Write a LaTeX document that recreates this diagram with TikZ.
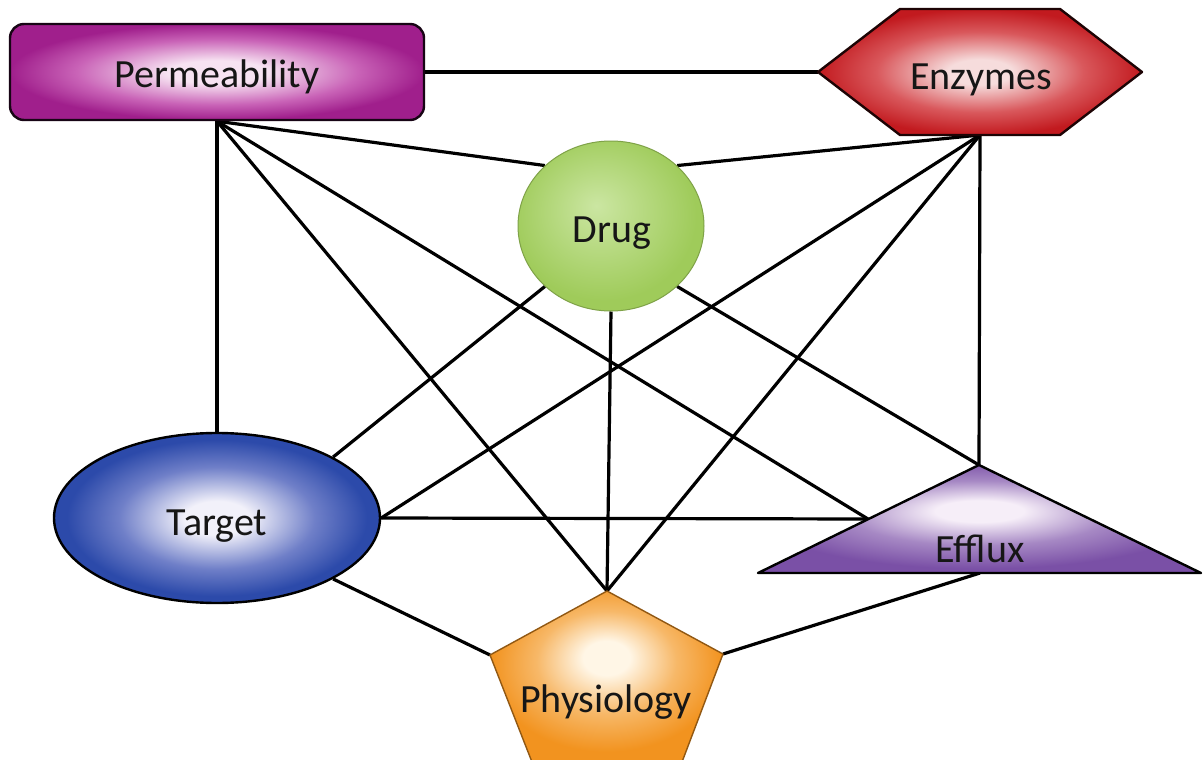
\documentclass[tikz,border=0pt]{standalone}
\usepackage{fontspec}
\setmainfont{Carlito}
\usetikzlibrary{shapes.geometric}
\pgfdeclarelayer{back}
\pgfdeclarelayer{bg}
\pgfsetlayers{back,bg,main}
\definecolor{txt}{HTML}{161616}
\definecolor{permO}{HTML}{A01F8C}
\definecolor{permM}{HTML}{C963B7}
\definecolor{permI}{HTML}{F7E3F2}
\definecolor{enzO}{HTML}{C21A1F}
\definecolor{enzM}{HTML}{D9585C}
\definecolor{enzI}{HTML}{F6DCDC}
\definecolor{drugO}{HTML}{9FCB5A}
\definecolor{drugI}{HTML}{CBE6A2}
\definecolor{tarO}{HTML}{2C4AAA}
\definecolor{tarM}{HTML}{6F7FC8}
\definecolor{tarI}{HTML}{F2F1FA}
\definecolor{effO}{HTML}{7A50A6}
\definecolor{effM}{HTML}{A688C4}
\definecolor{effI}{HTML}{F6EEF8}
\definecolor{phyO}{HTML}{F2931F}
\definecolor{phyM}{HTML}{F7B868}
\definecolor{phyI}{HTML}{FFF6E6}
\pgfdeclareradialshading{permglow}{\pgfpoint{0bp}{0bp}}{color(0bp)=(permI); color(6bp)=(permI); color(17bp)=(permM); color(25bp)=(permO); color(50bp)=(permO)}
\pgfdeclareradialshading{enzglow}{\pgfpoint{0bp}{0bp}}{color(0bp)=(enzI); color(5bp)=(enzI); color(16bp)=(enzM); color(25bp)=(enzO); color(50bp)=(enzO)}
\pgfdeclareradialshading{drugglow}{\pgfpoint{-4bp}{6bp}}{color(0bp)=(drugI); color(25bp)=(drugO); color(50bp)=(drugO)}
\pgfdeclareradialshading{targlow}{\pgfpoint{0bp}{0bp}}{color(0bp)=(tarI); color(5bp)=(tarI); color(15bp)=(tarM); color(23bp)=(tarO); color(50bp)=(tarO)}
\pgfdeclareradialshading{effglow}{\pgfpoint{0bp}{4bp}}{color(0bp)=(effI); color(5bp)=(effI); color(15bp)=(effM); color(25bp)=(effO); color(50bp)=(effO)}
\pgfdeclareradialshading{phyglow}{\pgfpoint{0bp}{6bp}}{color(0bp)=(phyI); color(5bp)=(phyI); color(15bp)=(phyM); color(25bp)=(phyO); color(50bp)=(phyO)}
\begin{document}
\begin{tikzpicture}[x=1pt,y=-1pt,
  link/.style={line width=3.2pt,black},
  lbl/.style={font=\fontsize{40}{48}\selectfont,text=txt,inner sep=0pt,anchor=base},
  shapeedge/.style={line width=2.4pt,line join=round}]
\useasboundingbox (0,0) rectangle (1203,760);
\begin{pgfonlayer}{back}
\fill[white] (0,0) rectangle (1203,760);
\end{pgfonlayer}

% Permeability
\node[draw=black!85!permO,shapeedge,shading=permglow,rounded corners=14pt,
      minimum width=414pt,minimum height=96pt,inner sep=0pt] (perm) at (217,72) {};
\node[lbl] (permtxt) at (217,88) {Permeability};

% Enzymes hexagon
\shadedraw[shading=enzglow,draw=black!85!enzO,shapeedge]
  (818,72) -- (900,9) -- (1060,9) -- (1142,72) -- (1060,135) -- (900,135) -- cycle;
\coordinate (enzL) at (818,72);
\coordinate (enzB) at (980,135);
\node[lbl] (enztxt) at (981,89) {Enzymes};

% Drug
\node[ellipse,draw=drugO!80!black,line width=1pt,shading=drugglow,
      minimum width=186pt,minimum height=170pt,inner sep=0pt] (drug) at (611,226) {};
\node[lbl] (drugtxt) at (612,242) {Drug};

% Target
\node[ellipse,draw=black,shapeedge,shading=targlow,
      minimum width=326pt,minimum height=170pt,inner sep=0pt] (target) at (217,518) {};
\node[lbl] (tartxt) at (217,535) {Target};

% Efflux triangle
\shadedraw[shading=effglow,draw=black,shapeedge]
  (979,465) -- (1201,573) -- (758,573) -- cycle;
\coordinate (effT) at (979,465);
\coordinate (effL) at (868,519);
\coordinate (effB) at (980,573);
\node[lbl] (efftxt) at (980,562) {Efflux};

% Physiology pentagon
\shadedraw[shading=phyglow,draw=phyO!60!black,line width=1.4pt,line join=round]
  (607,591) -- (723,654) -- (682,762) -- (532,762) -- (490,655) -- cycle;
\coordinate (phyT) at (607,591);
\coordinate (phyL) at (490,655);
\coordinate (phyR) at (723,654);
\node[lbl] (phytxt) at (606,712) {Physiology};

\begin{pgfonlayer}{bg}
\draw[link] (perm.east) -- (enzL);
\draw[link] (perm.south) -- (drug.north west);
\draw[link] (perm.south) -- (target.north);
\draw[link] (perm.south) -- (phyT);
\draw[link] (perm.south) -- (effL);
\draw[link] (enzB) -- (drug.north east);
\draw[link] (enzB) -- (target.east);
\draw[link] (enzB) -- (phyT);
\draw[link] (enzB) -- (effT);
\draw[link] (drug.south west) -- (target.north east);
\draw[link] (drug.south) -- (phyT);
\draw[link] (drug.south east) -- (effT);
\draw[link] (target.east) -- (effL);
\draw[link] (target.south east) -- (phyL);
\draw[link] (effB) -- (phyR);
\end{pgfonlayer}
\end{tikzpicture}
\end{document}
